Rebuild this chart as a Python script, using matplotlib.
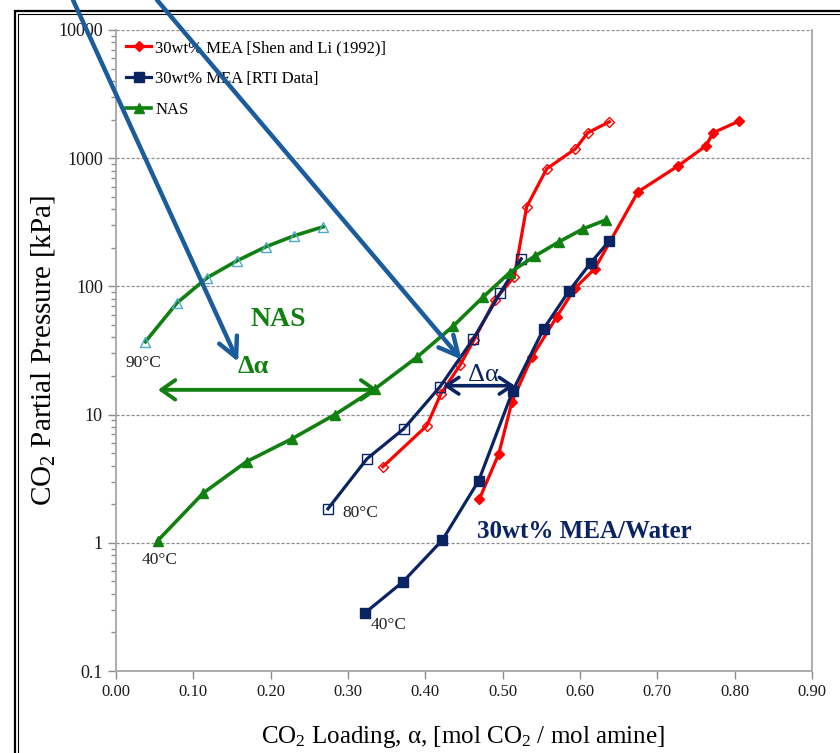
import matplotlib
matplotlib.use("Agg")
import matplotlib.pyplot as plt
from matplotlib.patches import Rectangle

plt.rcParams['font.family'] = ['Liberation Serif', 'DejaVu Serif']
plt.rcParams['mathtext.fontset'] = 'custom'
plt.rcParams['mathtext.rm'] = 'Liberation Serif'
plt.rcParams['mathtext.it'] = 'Liberation Serif:italic'
plt.rcParams['mathtext.bf'] = 'Liberation Serif:bold'

# ---- data ----
# Shen and Li (1992), 30wt% MEA
shen40_a = [0.470, 0.495, 0.512, 0.538, 0.570, 0.594, 0.619, 0.675, 0.727, 0.763, 0.772, 0.806]
shen40_p = [2.2, 4.95, 12.6, 28.2, 58, 97.6, 137, 547, 872, 1250, 1578, 1952]
shen80_a = [0.345, 0.402, 0.420, 0.445, 0.463, 0.490, 0.515, 0.531, 0.557, 0.594, 0.610, 0.638]
shen80_p = [3.92, 8.2, 14.5, 24.4, 38.3, 78.6, 119, 417, 827, 1183, 1578, 1923]
# RTI data, 30wt% MEA
rti40_a = [0.322, 0.371, 0.422, 0.469, 0.513, 0.553, 0.586, 0.614, 0.638]
rti40_p = [0.284, 0.496, 1.05, 3.05, 15.3, 46.7, 92.4, 153, 227]
rti80_a = [0.274, 0.3245, 0.372, 0.419, 0.462, 0.497, 0.524]
rti80_p = [1.84, 4.52, 7.74, 16.5, 39, 89, 164]
# NAS
nas40_a = [0.054, 0.113, 0.169, 0.228, 0.283, 0.335, 0.389, 0.436, 0.475, 0.509, 0.542, 0.573, 0.604, 0.634]
nas40_p = [1.04, 2.45, 4.3, 6.5, 10.0, 15.9, 28, 49, 83, 128, 173, 223, 281, 331]
nas90_a = [0.038, 0.079, 0.118, 0.156, 0.194, 0.230, 0.268]
nas90_p = [37, 74.5, 117, 158, 204, 248, 292]

x_ticks = [0.0, 0.1, 0.2, 0.3, 0.4, 0.5, 0.6, 0.7, 0.8, 0.9]
y_ticks = [0.1, 1, 10, 100, 1000, 10000]
y_ticklabels = ["0.1", "1", "10", "100", "1000", "10000"]

RED = "#FF0000"
NAVY = "#0A2463"
GREEN = "#108010"
BLUE = "#1A5C9C"
CYAN = "#4BACC6"

fig = plt.figure(figsize=(8.4, 7.53), dpi=100)
ax = fig.add_axes([116/840, 1-671/753, (812-116)/840, (671-30)/753])
ax.set_yscale('log')
ax.set_xlim(0, 0.9)
ax.set_ylim(0.1, 10000)

# series (draw order as in Excel: red, navy, green)
ax.plot(shen40_a, shen40_p, color=RED, lw=2.3, marker='D', ms=5.5, mfc=RED, mec=RED,
        label="30wt% MEA [Shen and Li (1992)]", zorder=3)
ax.plot(shen80_a, shen80_p, color=RED, lw=2.3, marker='D', ms=5, mfc='none', mec=RED, mew=1.0, zorder=3)
ax.plot(rti40_a, rti40_p, color=NAVY, lw=2.3, marker='s', ms=7, mfc=NAVY, mec=NAVY,
        label="30wt% MEA [RTI Data]", zorder=4)
ax.plot(rti80_a, rti80_p, color=NAVY, lw=2.3, marker='s', ms=7, mfc='none', mec=NAVY, mew=1.0, zorder=4)
ax.plot(nas40_a, nas40_p, color=GREEN, lw=2.6, marker='^', ms=7, mfc=GREEN, mec=GREEN,
        label="NAS", zorder=5)
ax.plot(nas90_a, nas90_p, color=GREEN, lw=2.6, marker='^', ms=7, mfc='none', mec=CYAN, mew=1.0, zorder=5)

# axes styling
ax.set_xticks(x_ticks)
ax.set_xticklabels([f"{v:.2f}" for v in x_ticks], fontsize=12)
ax.set_yticks(y_ticks)
ax.set_yticklabels(y_ticklabels, fontsize=13)
ax.tick_params(axis='both', which='major', direction='out', length=5.5, width=1, color='#8C8C8C',
               pad=4, labelcolor='#1a1a1a')
ax.tick_params(axis='y', which='minor', direction='out', length=3.5, width=1, color='#8C8C8C')
ax.yaxis.grid(True, which='major', linestyle=(0, (2.5, 1.5)), color='#8C8C8C', lw=0.9)
ax.xaxis.grid(False)
ax.spines['top'].set_visible(False)
for s in ['left', 'bottom', 'right']:
    ax.spines[s].set_color('#A6A6A6')
    ax.spines[s].set_linewidth(1.3)

# legend
leg = ax.legend(loc='upper left', frameon=False, fontsize=12, handlelength=1.5,
                handletextpad=0.25, labelspacing=0.9, borderaxespad=0.3, borderpad=0.3)

# arrows (blue, from top of figure)
ax.annotate("", xy=(0.158, 25.8), xycoords='data', xytext=(73/840, 1.0), textcoords='figure fraction',
            arrowprops=dict(arrowstyle='->, head_length=0.7, head_width=0.35', lw=3.2, color=BLUE,
                            mutation_scale=20, shrinkA=0, shrinkB=0), annotation_clip=False, zorder=6)
ax.annotate("", xy=(0.447, 26.8), xycoords='data', xytext=(157/840, 1.0), textcoords='figure fraction',
            arrowprops=dict(arrowstyle='->, head_length=0.7, head_width=0.35', lw=3.2, color=BLUE,
                            mutation_scale=20, shrinkA=0, shrinkB=0), annotation_clip=False, zorder=6)
# double arrows
ax.annotate("", xy=(0.0543, 15.6), xytext=(0.339, 15.6),
            arrowprops=dict(arrowstyle='<->, head_length=0.5, head_width=0.35', lw=2.8, color=GREEN,
                            mutation_scale=20, shrinkA=0, shrinkB=0), zorder=6)
ax.annotate("", xy=(0.423, 16.8), xytext=(0.516, 16.8),
            arrowprops=dict(arrowstyle='<->, head_length=0.45, head_width=0.3', lw=2.6, color=NAVY,
                            mutation_scale=20, shrinkA=0, shrinkB=0), zorder=6)

# text annotations
ax.text(0.2095, 54.9, "NAS", color=GREEN, fontsize=20, fontweight='bold', ha='center', va='center')
ax.text(0.177, 23.6, "Δα", color=GREEN, fontsize=19, fontweight='bold', ha='center', va='center')
ax.text(0.4746, 20.4, "Δα", color=NAVY, fontsize=19, ha='center', va='center')
ax.text(0.605, 1.22, "30wt% MEA/Water", color=NAVY, fontsize=18, fontweight='bold', ha='center', va='center')
ax.text(0.035, 25.4, "90°C", color='#222222', fontsize=12.5, ha='center', va='center')
ax.text(0.057, 0.737, "40°C", color='#222222', fontsize=12.5, ha='center', va='center')
ax.text(0.3155, 1.71, "80°C", color='#222222', fontsize=12.5, ha='center', va='center')
ax.text(0.353, 0.229, "40°C", color='#222222', fontsize=12.5, ha='center', va='center')

# axis labels
fig.text(463/840, 1-737/753, r"CO$_\mathrm{2}$ Loading, α, [mol CO$_\mathrm{2}$ / mol amine]",
         fontsize=18, ha='center', va='center')
fig.text(43/840, 1-350/753, r"CO$_\mathrm{2}$ Partial Pressure [kPa]",
         fontsize=21, ha='center', va='center', rotation=90)

# outer double frame
fig.add_artist(Rectangle((14.5/840, -0.5), 2.0, 1.5 - 10.5/753, transform=fig.transFigure,
                         fill=False, ec='black', lw=1.6, zorder=0))
fig.add_artist(Rectangle((17.8/840, -0.5), 2.0, 1.5 - 13.8/753, transform=fig.transFigure,
                         fill=False, ec='black', lw=0.8, zorder=0))

fig.savefig("out.png", dpi=100)
